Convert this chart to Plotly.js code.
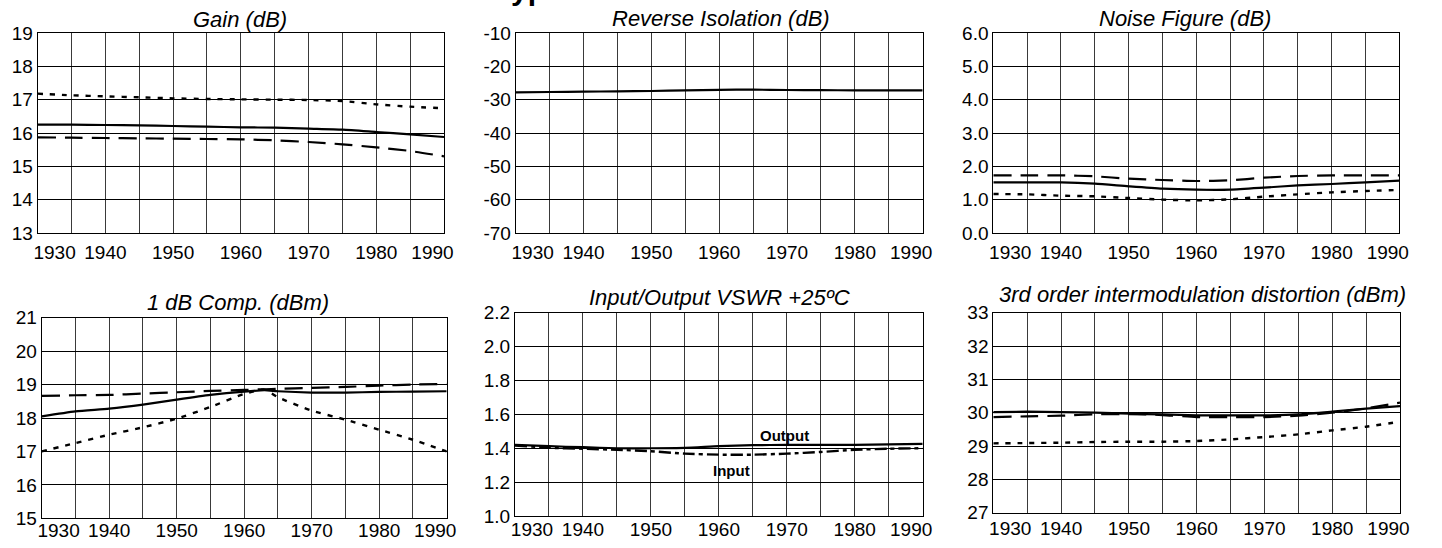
<!DOCTYPE html>
<html>
<head>
<meta charset="utf-8">
<script src="https://cdn.plot.ly/plotly-3.0.1.min.js"></script>
<style>html,body{margin:0;padding:0;background:#fff;}#chart{width:1442px;height:548px;}</style>
</head>
<body>
<div id="chart"></div>
<script>
// ---------- data ----------
const freq = [1930,1935,1940,1945,1950,1955,1960,1965,1970,1975,1980,1985,1990];
const freqTicks = [1930,1940,1950,1960,1970,1980,1990];
const freqTickText = ["1930","1940","1950","1960","1970","1980","1990"];

const gainCold = [17.18,17.13,17.10,17.07,17.04,17.02,17.01,17.00,16.99,16.96,16.86,16.79,16.74];
const gainRoom = [16.25,16.25,16.24,16.23,16.21,16.19,16.17,16.16,16.13,16.10,16.03,15.96,15.88];
const gainHot  = [15.87,15.86,15.85,15.84,15.83,15.82,15.81,15.78,15.73,15.66,15.57,15.46,15.30];

const isoRoom = [-27.8,-27.7,-27.6,-27.5,-27.4,-27.2,-27.05,-27.0,-27.1,-27.15,-27.2,-27.2,-27.2];
const isoTicks = [-70,-60,-50,-40,-30,-20,-10];
const isoTickText = ["-70","-60","-50","-40","-30","-20","-10"];

const nfHot  = [1.73,1.73,1.73,1.70,1.63,1.59,1.56,1.58,1.66,1.71,1.73,1.73,1.73];
const nfRoom = [1.52,1.52,1.52,1.48,1.40,1.33,1.30,1.30,1.36,1.43,1.47,1.52,1.57];
const nfCold = [1.17,1.16,1.12,1.10,1.05,1.00,0.98,1.01,1.09,1.16,1.22,1.26,1.29];

const compFreq = [1930,1935,1940,1945,1950,1955,1960,1963,1965,1970,1975,1980,1985,1990];
const compCold = [17.00,17.25,17.50,17.72,17.98,18.33,18.72,18.85,18.62,18.22,17.95,17.65,17.35,17.00];
const compRoom = [18.05,18.20,18.28,18.40,18.55,18.69,18.79,18.83,18.80,18.76,18.76,18.78,18.79,18.80];
const compHot  = [18.66,18.68,18.69,18.73,18.77,18.81,18.84,18.86,18.87,18.90,18.93,18.97,19.00,19.02];

const vswrOutput = [1.420,1.412,1.406,1.400,1.400,1.402,1.412,1.418,1.420,1.420,1.420,1.423,1.426];
const vswrInput  = [1.416,1.403,1.397,1.391,1.382,1.368,1.362,1.362,1.368,1.378,1.391,1.397,1.400];

const imdRoom = [30.02,30.03,30.02,30.00,29.97,29.95,29.92,29.92,29.92,29.95,30.03,30.12,30.20];
const imdHot  = [29.87,29.89,29.91,29.95,29.96,29.93,29.87,29.87,29.87,29.91,30.00,30.13,30.30];
const imdCold = [29.08,29.09,29.10,29.12,29.13,29.13,29.15,29.20,29.27,29.35,29.47,29.58,29.73];

const panelTitles = ["Gain (dB)","Reverse Isolation (dB)","Noise Figure (dB)",
  "1 dB Comp. (dBm)","Input/Output VSWR +25\u00BAC","3rd order intermodulation distortion (dBm)"];
const mainTitle = "Typical Performance Data";

// ---------- styles ----------
const FONT = "'Liberation Sans', Arial, Helvetica, sans-serif";
const solid  = {color:'#000', width:2.2, dash:'solid', shape:'spline', smoothing:0.6};
const dashed = {color:'#000', width:2.2, dash:'18px,9px', shape:'spline', smoothing:0.6};
const dotted = {color:'#000', width:2.4, dash:'5px,7px', shape:'spline', smoothing:0.6};
const dashdot= {color:'#000', width:2.4, dash:'12px,4px,4px,4px', shape:'spline', smoothing:0.6};

function tr(x, y, line, ax) {
  return {x:x, y:y, type:'scatter', mode:'lines', line:line, xaxis:'x'+ax, yaxis:'y'+ax,
          showlegend:false, hoverinfo:'skip'};
}
const traces = [
  tr(freq, gainCold, dotted, ''), tr(freq, gainRoom, solid, ''), tr(freq, gainHot, dashed, ''),
  tr(freq, isoRoom, solid, '2'),
  tr(freq, nfHot, dashed, '3'), tr(freq, nfRoom, solid, '3'), tr(freq, nfCold, dotted, '3'),
  tr(compFreq, compCold, dotted, '4'), tr(compFreq, compRoom, solid, '4'), tr(compFreq, compHot, dashed, '4'),
  tr(freq, vswrInput, dashdot, '5'), tr(freq, vswrOutput, solid, '5'),
  tr(freq, imdCold, dotted, '6'), tr(freq, imdHot, dashed, '6'), tr(freq, imdRoom, solid, '6')
];

const W = 1442, H = 548;
function px(a,b){ return [a/W, b/W]; }
function py(top,bottom){ return [1-bottom/H, 1-top/H]; }

// the end labels sit a little inside the frame in the reference (label placement only)
const labelNudge = {first: 2.5, last: -1.7};
const xLabelPos = freqTicks.map(function(v, i){
  if (i === 0) return v + labelNudge.first;
  if (i === freqTicks.length - 1) return v + labelNudge.last;
  return v;
});

function xAxis(dom, anchor, standoff) {
  return {domain:dom, anchor:anchor, range:[1930,1990], tickmode:'array', tickvals:xLabelPos, ticktext:freqTickText,
    showgrid:false,
    minor:{tickmode:'linear', tick0:1930, dtick:5, showgrid:true, gridcolor:'#3a3a3a', gridwidth:1, ticks:''},
    showline:true, linecolor:'#000', linewidth:1, mirror:true, zeroline:false, ticks:'',
    ticklabelstandoff:standoff,
    tickfont:{family:FONT, size:19, color:'#000'}, fixedrange:true};
}
function yAxis(dom, anchor, range, dtick, fmt) {
  return {domain:dom, anchor:anchor, range:range, tick0:range[0], dtick:dtick, tickformat:fmt||'',
    showgrid:true, gridcolor:'#000', gridwidth:1,
    showline:true, linecolor:'#000', linewidth:1, mirror:true, zeroline:false, ticks:'',
    tickfont:{family:FONT, size:19, color:'#000'}, fixedrange:true};
}

const topY = py(33, 233);
const isoAxis = yAxis(topY, 'x2', [-70,-10], 10);
isoAxis.tickmode = 'array'; isoAxis.tickvals = isoTicks; isoAxis.ticktext = isoTickText;

const layout = {
  width:W, height:H, margin:{l:0,r:0,t:0,b:0}, paper_bgcolor:'#fff', plot_bgcolor:'#fff',
  font:{family:FONT, color:'#000'},
  xaxis:  xAxis(px(37.7,444), 'y', 2),   yaxis:  yAxis(topY, 'x', [13,19], 1),
  xaxis2: xAxis(px(515.7,922.7),'y2', 2), yaxis2: isoAxis,
  xaxis3: xAxis(px(993.3,1399.3),'y3', 2), yaxis3: yAxis(topY, 'x3', [0,6], 1, '.1f'),
  xaxis4: xAxis(px(41.7,446.7),'y4', -5), yaxis4: yAxis(py(317.7,518.3), 'x4', [15,21], 1),
  xaxis5: xAxis(px(515,922.7),'y5', -4), yaxis5: yAxis(py(312.7,516), 'x5', [1.0,2.2], 0.2, '.1f'),
  xaxis6: xAxis(px(993.3,1400),'y6', -2), yaxis6: yAxis(py(312.7,512.7), 'x6', [27,33], 1),
  annotations: [
    {text:'<b>'+mainTitle+'</b>', xref:'paper', yref:'paper', x:678/W, y:1-8.4/H, xanchor:'center', yanchor:'bottom',
     showarrow:false, font:{family:FONT, size:30, color:'#000'}},
    {text:'<i>'+panelTitles[0]+'</i>', xref:'paper', yref:'paper', x:240/W, y:1-20/H, xanchor:'center', yanchor:'middle', showarrow:false, font:{family:FONT,size:22,color:'#000'}},
    {text:'<i>'+panelTitles[1]+'</i>', xref:'paper', yref:'paper', x:721/W, y:1-18/H, xanchor:'center', yanchor:'middle', showarrow:false, font:{family:FONT,size:22,color:'#000'}},
    {text:'<i>'+panelTitles[2]+'</i>', xref:'paper', yref:'paper', x:1185/W, y:1-18/H, xanchor:'center', yanchor:'middle', showarrow:false, font:{family:FONT,size:22,color:'#000'}},
    {text:'<i>'+panelTitles[3]+'</i>', xref:'paper', yref:'paper', x:238/W, y:1-302/H, xanchor:'center', yanchor:'middle', showarrow:false, font:{family:FONT,size:22,color:'#000'}},
    {text:'<i>'+panelTitles[4]+'</i>', xref:'paper', yref:'paper', x:719/W, y:1-297/H, xanchor:'center', yanchor:'middle', showarrow:false, font:{family:FONT,size:22,color:'#000'}},
    {text:'<i>'+panelTitles[5]+'</i>', xref:'paper', yref:'paper', x:1202/W, y:1-294/H, xanchor:'center', yanchor:'middle', showarrow:false, font:{family:FONT,size:22,color:'#000'}},
    {text:'<b>Output</b>', xref:'x5', yref:'y5', x:1969.7, y:1.474, xanchor:'center', yanchor:'middle', showarrow:false, font:{family:FONT,size:15,color:'#000'}},
    {text:'<b>Input</b>', xref:'x5', yref:'y5', x:1961.9, y:1.27, xanchor:'center', yanchor:'middle', showarrow:false, font:{family:FONT,size:15,color:'#000'}}
  ]
};

Plotly.newPlot('chart', traces, layout, {staticPlot:true, displayModeBar:false});
</script>
</body>
</html>
